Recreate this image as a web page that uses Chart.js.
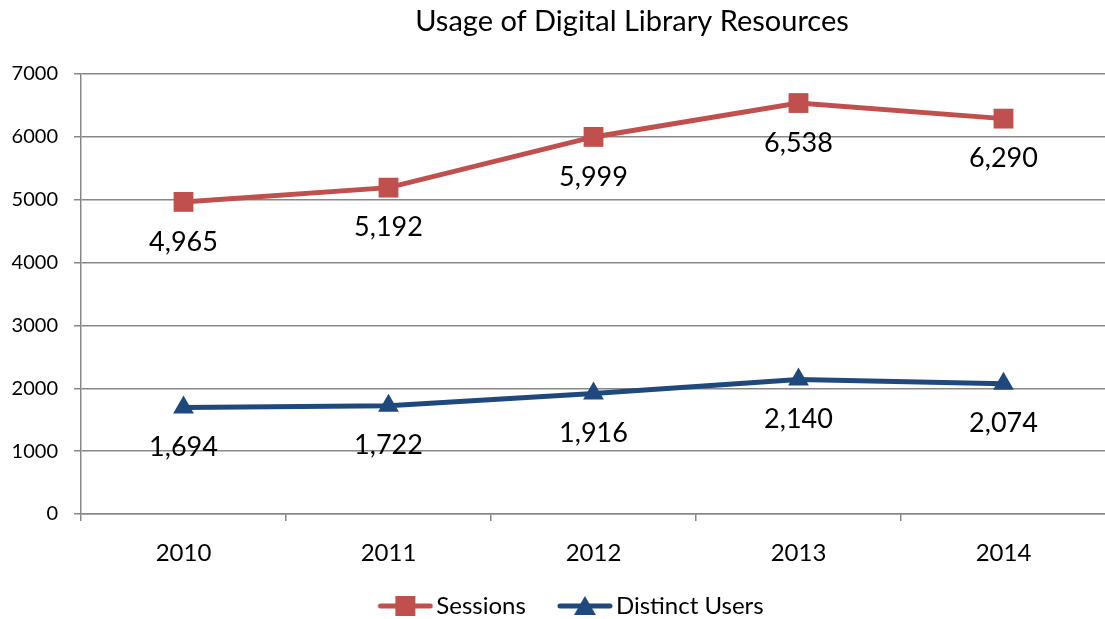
<!DOCTYPE html>
<html>
<head>
<meta charset="utf-8">
<script src="https://cdn.jsdelivr.net/npm/chart.js@4.4.0/dist/chart.umd.min.js"></script>
<style>
  html, body { margin: 0; padding: 0; background: #fff; overflow: hidden; }
  #wrap { position: relative; width: 1120px; height: 619px; }
</style>
</head>
<body>
<div id="wrap"><canvas id="usageChart"></canvas></div>
<script>
var years = ['2010', '2011', '2012', '2013', '2014'];
var sessions = [4965, 5192, 5999, 6538, 6290];
var distinctUsers = [1694, 1722, 1916, 2140, 2074];
var yTicks = [0, 1000, 2000, 3000, 4000, 5000, 6000, 7000];

var red = '#C0504D';
var blue = '#1F497D';
var gridGrey = '#878787';
var font = 'Lato';

// legend icon: line with the marker in the middle, drawn at the right of a
// 76px image so the text sits close and the items sit further apart
function legendIcon(color, shape) {
    var c = document.createElement('canvas');
    c.width = 76; c.height = 22;
    var g = c.getContext('2d');
    g.translate(20, 0);
    g.strokeStyle = color;
    g.lineWidth = 5;
    g.lineCap = 'round';
    g.beginPath(); g.moveTo(3, 11); g.lineTo(53, 11); g.stroke();
    g.fillStyle = color;
    if (shape === 'rect') {
        g.fillRect(18, 1, 20, 20);
    } else {
        g.beginPath(); g.moveTo(28, 1); g.lineTo(39, 20); g.lineTo(17, 20); g.closePath(); g.fill();
    }
    return c;
}
var icons = [legendIcon(red, 'rect'), legendIcon(blue, 'triangle')];

var extras = {
    id: 'extras',
    afterLayout: function(chart) {
        // legend sits a bit right of centre and lower in the original
        var lg = chart.legend;
        lg.left += 7;
        lg.right += 7;
        lg.top += 9;
        lg.bottom += 9;
    },
    afterDraw: function(chart) {
        var ctx = chart.ctx;
        ctx.save();
        ctx.fillStyle = '#000';
        ctx.textAlign = 'center';
        ctx.textBaseline = 'middle';
        ctx.font = '29px ' + font;
        ctx.fillText('Usage of Digital Library Resources', 632, 22);

        ctx.font = '27px ' + font;
        chart.data.datasets.forEach(function(ds, i) {
            var meta = chart.getDatasetMeta(i);
            meta.data.forEach(function(pt, j) {
                ctx.fillText(ds.data[j].toLocaleString('en-US'), pt.x, pt.y + 40);
            });
        });
        ctx.restore();
    }
};

new Chart(document.getElementById('usageChart'), {
    type: 'line',
    data: {
        labels: years,
        datasets: [{
            label: 'Sessions',
            data: sessions,
            borderColor: red,
            backgroundColor: red,
            borderWidth: 5,
            pointStyle: 'rect',
            pointRadius: 14,
            pointBorderWidth: 0,
            tension: 0
        }, {
            label: 'Distinct Users',
            data: distinctUsers,
            borderColor: blue,
            backgroundColor: blue,
            borderWidth: 5,
            pointStyle: 'triangle',
            pointRadius: 12,
            pointBorderWidth: 0,
            tension: 0
        }]
    },
    options: {
        responsive: true,
        maintainAspectRatio: false,
        animation: false,
        layout: { padding: { top: 74, right: 4, left: 0, bottom: 0 } },
        plugins: {
            title: { display: false },
            tooltip: { enabled: false },
            legend: {
                position: 'bottom',
                labels: {
                    color: '#000',
                    font: { family: font, size: 24 },
                    usePointStyle: true,
                    pointStyleWidth: 58,
                    boxHeight: 22,
                    padding: 20,
                    generateLabels: function(chart) {
                        var items = Chart.defaults.plugins.legend.labels.generateLabels(chart);
                        items.forEach(function(it, i) { it.pointStyle = icons[i]; });
                        return items;
                    }
                }
            }
        },
        scales: {
            x: {
                offset: true,
                grid: { offset: true, drawOnChartArea: false, color: gridGrey, lineWidth: 1.5, tickLength: 7 },
                border: { color: gridGrey, width: 1.5 },
                ticks: { color: '#000', font: { family: font, size: 24 }, padding: 18 },
                afterFit: function(scale) { scale.height = 51; }
            },
            y: {
                min: 0,
                max: 7000,
                afterBuildTicks: function(scale) { scale.ticks = yTicks.map(function(v) { return { value: v }; }); },
                grid: { color: gridGrey, lineWidth: 1.5, tickLength: 7 },
                border: { color: gridGrey, width: 1.5 },
                ticks: {
                    color: '#000',
                    font: { family: font, size: 20 },
                    padding: 16,
                    callback: function(v) { return String(v); }
                },
                afterFit: function(scale) { scale.width = 81; }
            }
        }
    },
    plugins: [extras]
});
</script>
</body>
</html>
